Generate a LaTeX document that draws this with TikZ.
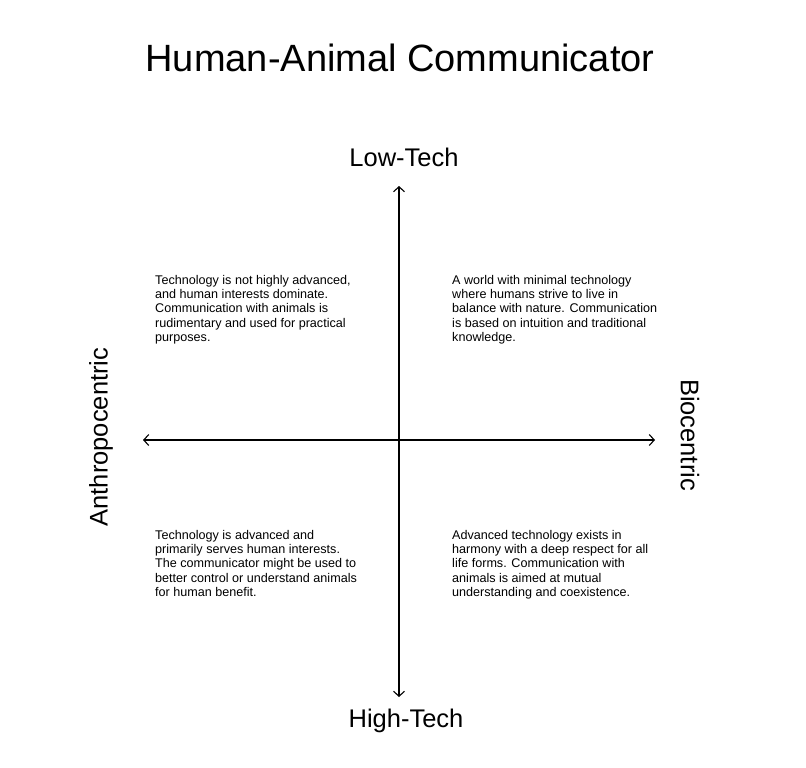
\documentclass[tikz,border=0pt]{standalone}
\usepackage{fontspec}
\setmainfont{Liberation Sans}
\usepackage{tikz}
\usetikzlibrary{arrows.meta,positioning}

\begin{document}
\begin{tikzpicture}[
  x=1pt, y=-1pt,
  axis/.style={{Straight Barb[length=5pt,width=11pt]}-{Straight Barb[length=5pt,width=11pt]}, line width=1.1pt},
  pole/.style={font=\fontsize{25.5}{28}\selectfont, inner sep=0pt},
  quad/.style={align=left, anchor=north west, inner sep=0pt, font=\fontsize{12.6}{14.3}\selectfont}
]
\useasboundingbox (0,0) rectangle (806,768);
\node[font=\fontsize{38}{42}\selectfont] (title) at (400,58) {Human-Animal Communicator};

\coordinate (top) at (399,186);
\coordinate (bot) at (399,697);
\coordinate (lft) at (143,440);
\coordinate (rgt) at (655,440);
\draw[axis] (bot) -- (top);
\draw[axis] (lft) -- (rgt);

\node[pole] (low) at (404,157) {Low-Tech};
\node[pole] (high) at (406,721) {High-Tech};
\node[pole, rotate=90] (anthro) at (101,437) {Anthropocentric};
\node[pole, rotate=-90] (bio) at (690,435) {Biocentric};

\node[quad] (q1) at (155,275) {Technology is not highly advanced,\\and human interests dominate.\\Communication with animals is\\rudimentary and used for practical\\purposes.};
\node[quad] (q2) at (452,275) {A world with minimal technology\\where humans strive to live in\\balance with nature. Communication\\is based on intuition and traditional\\knowledge.};
\node[quad] (q3) at (155,530) {Technology is advanced and\\primarily serves human interests.\\The communicator might be used to\\better control or understand animals\\for human benefit.};
\node[quad] (q4) at (452,530) {Advanced technology exists in\\harmony with a deep respect for all\\life forms. Communication with\\animals is aimed at mutual\\understanding and coexistence.};
\end{tikzpicture}
\end{document}
